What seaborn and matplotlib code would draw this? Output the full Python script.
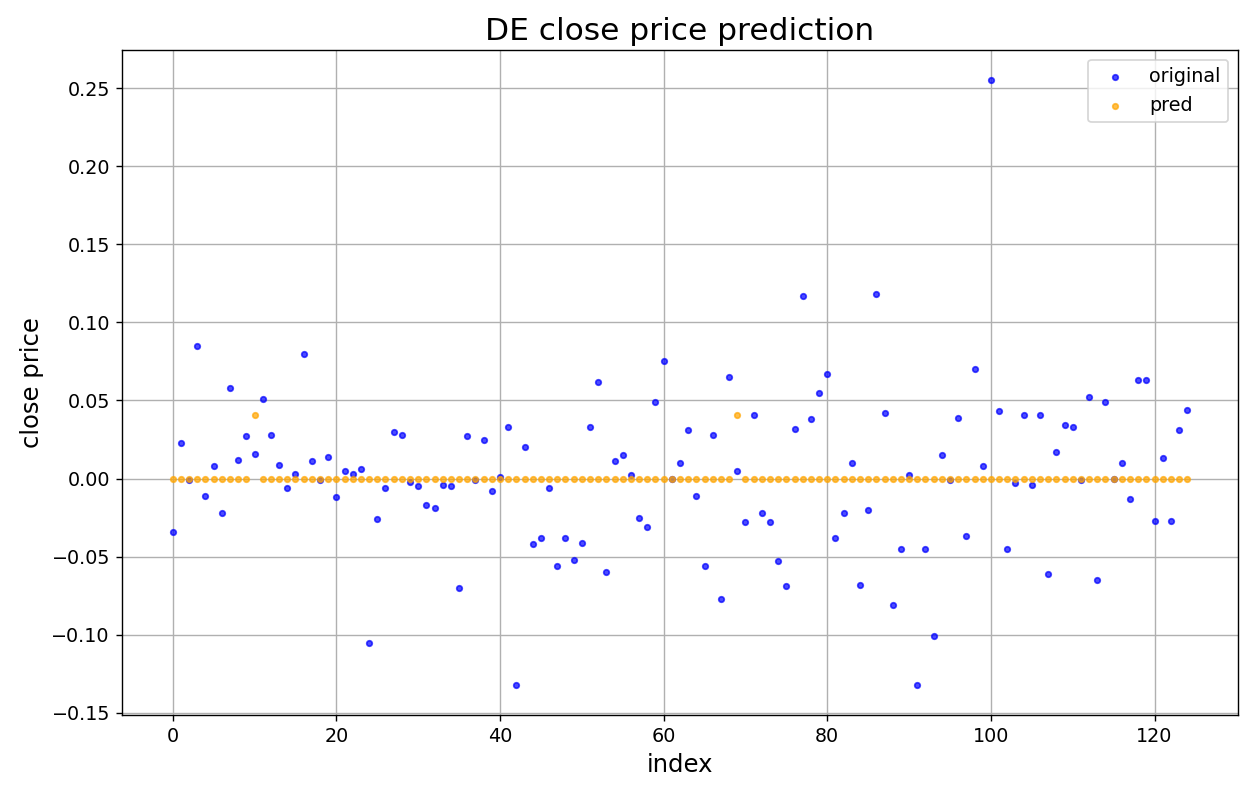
import numpy as np
import pandas as pd
import matplotlib
matplotlib.use("Agg")
import matplotlib.pyplot as plt
import seaborn as sns

original = [
    -0.034, 0.023, -0.001, 0.085, -0.011, 0.008, -0.022, 0.058, 0.012, 0.027,
    0.016, 0.051, 0.028, 0.009, -0.006, 0.003, 0.080, 0.011, -0.001, 0.014,
    -0.012, 0.005, 0.003, 0.006, -0.105, -0.026, -0.006, 0.030, 0.028, -0.002,
    -0.005, -0.017, -0.019, -0.004, -0.005, -0.070, 0.027, -0.001, 0.025, -0.008,
    0.001, 0.033, -0.132, 0.020, -0.042, -0.038, -0.006, -0.056, -0.038, -0.052,
    -0.041, 0.033, 0.062, -0.060, 0.011, 0.015, 0.002, -0.025, -0.031, 0.049,
    0.075, 0.000, 0.010, 0.031, -0.011, -0.056, 0.028, -0.077, 0.065, 0.005,
    -0.028, 0.041, -0.022, -0.028, -0.053, -0.069, 0.032, 0.117, 0.038, 0.055,
    0.067, -0.038, -0.022, 0.010, -0.068, -0.020, 0.118, 0.042, -0.081, -0.045,
    0.002, -0.132, -0.045, -0.101, 0.015, -0.001, 0.039, -0.037, 0.070, 0.008,
    0.255, 0.043, -0.045, -0.003, 0.041, -0.004, 0.041, -0.061, 0.017, 0.034,
    0.033, -0.001, 0.052, -0.065, 0.049, 0.000, 0.010, -0.013, 0.063, 0.063,
    -0.027, 0.013, -0.027, 0.031, 0.044,
]
pred = [0.0] * len(original)
pred[10] = 0.041
pred[69] = 0.041
index = list(range(len(original)))

fig, ax = plt.subplots(figsize=(1252 / 125, 795 / 125), dpi=125)
fig.subplots_adjust(left=122 / 1252, right=1238 / 1252, top=1 - 50 / 795, bottom=1 - 715 / 795)

sns.scatterplot(x=index, y=original, color="blue", alpha=0.7, s=10,
                edgecolor="blue", linewidth=1, label="original", ax=ax)
sns.scatterplot(x=index, y=pred, color="orange", alpha=0.7, s=10,
                edgecolor="orange", linewidth=1, label="pred", ax=ax)

ax.set_title("DE close price prediction", fontsize=18)
ax.set_xlabel("index", fontsize=14)
ax.set_ylabel("close price", fontsize=14)
ax.tick_params(labelsize=11)
ax.grid(True, color="#b0b0b0", linewidth=0.8)
ax.set_axisbelow(True)
ax.legend(loc="upper right", fontsize=11)

fig.savefig("out.png", dpi=125)
